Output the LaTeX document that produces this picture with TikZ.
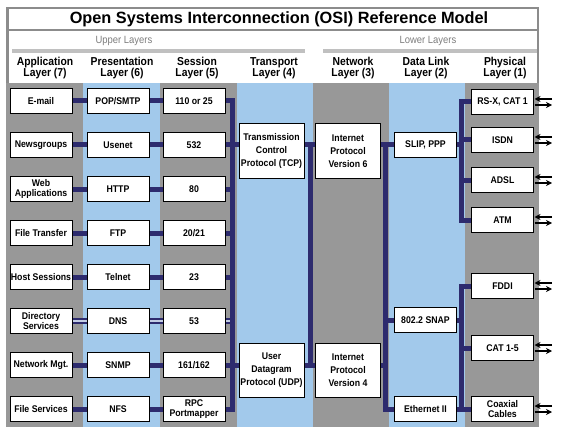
\documentclass[tikz,border=0pt]{standalone}
\usepackage{fontspec}
\setmainfont{Liberation Sans}[FakeStretch=0.9]
\newfontfamily\titlefont{Liberation Sans}
\usetikzlibrary{arrows.meta,calc}
\definecolor{colgray}{RGB}{152,152,152}
\definecolor{colblue}{RGB}{162,201,235}
\definecolor{navy}{RGB}{45,43,110}
\definecolor{framegray}{RGB}{140,140,140}
\definecolor{bargray}{RGB}{192,192,192}
\definecolor{txtgray}{RGB}{125,125,125}
\definecolor{midline}{RGB}{195,205,228}
\pgfdeclarelayer{bg}\pgfdeclarelayer{lines}\pgfsetlayers{bg,lines,main}
\begin{document}
\begin{tikzpicture}[x=1pt,y=-1pt,
 box/.style={draw=black, line width=1pt, fill=white, minimum width=62pt, minimum height=25pt, inner sep=0pt, align=center, font=\fontsize{9.7}{10}\selectfont\bfseries},
 bigbox/.style={box, minimum width=65pt, minimum height=54pt, font=\fontsize{9.7}{13}\selectfont\bfseries},
 hdr/.style={align=center, font=\fontsize{11.5}{11}\selectfont\bfseries},
 link/.style={draw=navy, line width=5pt},
 bus/.style={link, line cap=rect},
 dlink/.style={draw=navy, line width=6pt},
 dmid/.style={draw=midline, line width=1.5pt},
 arr/.style={draw=black, line width=1.3pt, -{Stealth[length=6pt,width=6pt]}}]
\useasboundingbox (0,0) rectangle (562,441);
% columns
\begin{pgfonlayer}{bg}
\fill[colgray] (6,83) rectangle (83,427);
\fill[colblue] (83,83) rectangle (160,427);
\fill[colgray] (160,83) rectangle (237,427);
\fill[colblue] (237,83) rectangle (313,427);
\fill[colgray] (313,83) rectangle (389,427);
\fill[colblue] (389,83) rectangle (465,427);
\fill[colgray] (465,83) rectangle (539,427);
\end{pgfonlayer}
% frame
\draw[framegray, line width=2.5pt] (7.25,83) -- (7.25,8.25) -- (537.75,8.25) -- (537.75,83);
\draw[framegray, line width=2pt] (7,30.5) -- (538,30.5);
\node[font=\titlefont\fontsize{16.3}{16}\selectfont\bfseries] (title) at (279,19.5) {Open Systems Interconnection (OSI) Reference Model};
\node[text=txtgray, font=\fontsize{10.5}{10}\selectfont] (upper) at (124,41) {Upper Layers};
\node[text=txtgray, font=\fontsize{10.5}{10}\selectfont] (lower) at (428,41) {Lower Layers};
\draw[bargray, line width=4pt] (12,51.5) -- (305,51.5);
\draw[bargray, line width=4pt] (323,51.5) -- (537,51.5);
% headers
\node[hdr] (h7) at (45,68.5) {Application\\Layer (7)};
\node[hdr] (h6) at (122,68.5) {Presentation\\Layer (6)};
\node[hdr] (h5) at (197,68.5) {Session\\Layer (5)};
\node[hdr] (h4) at (274,68.5) {Transport\\Layer (4)};
\node[hdr] (h3) at (353,68.5) {Network\\Layer (3)};
\node[hdr] (h2) at (426,68.5) {Data Link\\Layer (2)};
\node[hdr] (h1) at (505,68.5) {Physical\\Layer (1)};
% application / presentation / session boxes
\node[box] (a1) at (41,101) {E-mail};
\node[box] (a2) at (41,145) {Newsgroups};
\node[box] (a3) at (41,189) {Web\\Applications};
\node[box] (a4) at (41,233) {File Transfer};
\node[box] (a5) at (41,277) {Host Sessions};
\node[box] (a6) at (41,321) {Directory\\Services};
\node[box] (a7) at (41,365) {Network Mgt.};
\node[box] (a8) at (41,409) {File Services};
\node[box] (p1) at (118,101) {POP/SMTP};
\node[box] (p2) at (118,145) {Usenet};
\node[box] (p3) at (118,189) {HTTP};
\node[box] (p4) at (118,233) {FTP};
\node[box] (p5) at (118,277) {Telnet};
\node[box] (p6) at (118,321) {DNS};
\node[box] (p7) at (118,365) {SNMP};
\node[box] (p8) at (118,409) {NFS};
\node[box] (s1) at (194,101) {110 or 25};
\node[box] (s2) at (194,145) {532};
\node[box] (s3) at (194,189) {80};
\node[box] (s4) at (194,233) {20/21};
\node[box] (s5) at (194,277) {23};
\node[box] (s6) at (194,321) {53};
\node[box] (s7) at (194,365) {161/162};
\node[box] (s8) at (194,409) {RPC\\Portmapper};
% transport / network
\node[bigbox] (tcp) at (271.5,151) {Transmission\\Control\\Protocol (TCP)};
\node[bigbox] (udp) at (271.5,370.5) {User\\Datagram\\Protocol (UDP)};
\node[bigbox] (ip6) at (348,151) {Internet\\Protocol\\Version 6};
\node[bigbox] (ip4) at (348,370.5) {Internet\\Protocol\\Version 4};
% data link
\node[box] (slip) at (425.5,145) {SLIP, PPP};
\node[box] (snap) at (425.5,320) {802.2 SNAP};
\node[box] (eth) at (425.5,409) {Ethernet II};
% physical
\node[box] (ph1) at (502.5,102) {RS-X, CAT 1};
\node[box] (ph2) at (502.5,140) {ISDN};
\node[box] (ph3) at (502.5,180) {ADSL};
\node[box] (ph4) at (502.5,220) {ATM};
\node[box] (ph5) at (502.5,286) {FDDI};
\node[box] (ph6) at (502.5,348) {CAT 1-5};
\node[box] (ph7) at (502.5,409) {Coaxial\\Cables};
% bus coordinates
\coordinate (b1) at (232,0);
\coordinate (b2) at (310,0);
\coordinate (b3) at (385,0);
\coordinate (b4) at (461,0);
\begin{pgfonlayer}{lines}
\foreach \i in {1,2,3,4,5,7,8}{
  \draw[link] (a\i.east) -- (p\i.west);
  \draw[link] (p\i.east) -- (s\i.west);
  \draw[link] (s\i.east) -- (s\i.east -| b1);
}
\draw[dlink] (a6.east) -- (p6.west);
\draw[dlink] (p6.east) -- (s6.west);
\draw[dlink] (s6.east) -- (s6.east -| b1);
\draw[bus] (b1 |- s1.east) -- (b1 |- s8.east);
\draw[link] (b1 |- a2) -- (tcp.west |- a2);
\draw[link] (b1 |- a7) -- (udp.west |- a7);
\draw[link] (tcp.east |- a2) -- (ip6.west |- a2);
\draw[link] (udp.east |- a7) -- (ip4.west |- a7);
\draw[bus] (b2 |- a2) -- (b2 |- a7);
\draw[link] (ip6.east |- a2) -- (slip.west);
\draw[link] (ip4.east |- a7) -- (b3 |- a7);
\draw[bus] (b3 |- a2) -- (b3 |- eth.west);
\draw[link] (b3 |- snap.west) -- (snap.west);
\draw[link] (b3 |- eth.west) -- (eth.west);
\draw[link] (slip.east) -- (b4 |- slip.east);
\draw[link] (snap.east) -- (b4 |- snap.east);
\draw[link] (eth.east) -- (b4 |- eth.east);
\draw[bus] (b4 |- ph1.west) -- (b4 |- ph4.west);
\draw[bus] (b4 |- ph5.west) -- (b4 |- ph7.west);
\foreach \i in {1,...,7}{
  \draw[link] (b4 |- ph\i.west) -- (ph\i.west);
}
\end{pgfonlayer}
\draw[dmid] (a6.east) -- (p6.west);
\draw[dmid] (p6.east) -- (s6.west);
\draw[dmid] (s6.east) -- ($(s6.east -| b1)+(-2.5,0)$);
% physical arrows
\foreach \i in {1,...,7}{
  \draw[arr] ($(ph\i.east)+(18,-3)$) -- ($(ph\i.east)+(0.5,-3)$);
  \draw[arr] ($(ph\i.east)+(0.5,3)$) -- ($(ph\i.east)+(18,3)$);
}
\end{tikzpicture}
\end{document}
